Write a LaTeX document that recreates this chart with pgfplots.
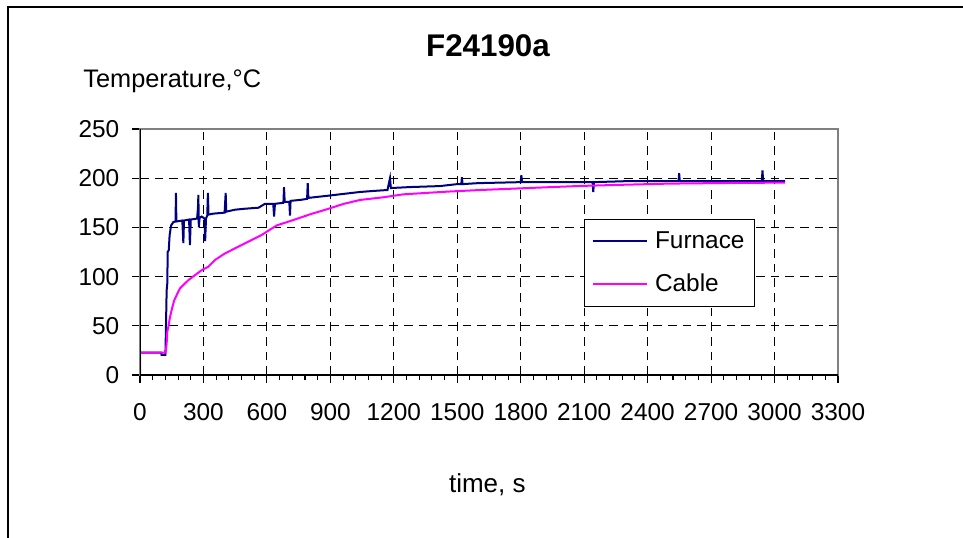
\documentclass[border=0pt]{standalone}
\usepackage{fontspec}
\setmainfont{Liberation Sans}
\usepackage{pgfplots}
\pgfplotsset{compat=1.18}
\definecolor{furnace}{RGB}{0,0,128}
\definecolor{cable}{RGB}{255,0,255}
\begin{document}
\begin{tikzpicture}
% picture frame (1px = 0.75pt)
\path[use as bounding box] (-105pt,-121.5pt) rectangle (617.25pt,281.25pt);
\draw[line width=1.2pt] (-99pt,-125pt) -- (-99pt,276pt) -- (625pt,276pt);
\node[font=\fontsize{23.5}{27}\selectfont\bfseries] at (261pt,247pt) {F24190a};
\node[anchor=west, font=\fontsize{19}{22}\selectfont] at (-46pt,220.5pt) {Temperature,°C};
\node[font=\fontsize{19.5}{23}\selectfont] at (260.5pt,-82.5pt) {time, s};
\begin{axis}[
    at={(0,0)}, anchor=south west,
    scale only axis,
    width=523.5pt, height=184.5pt,
    xmin=0, xmax=3300, ymin=0, ymax=250,
    xtick={0,300,...,3300},
    ytick={0,50,...,250},
    minor x tick num=4,
    tick align=outside,
    tick pos=left,
    major tick length=6pt,
    minor tick length=4pt,
    every tick/.style={black, line width=0.8pt},
    /pgf/number format/assume math mode=true,
    /pgf/number format/1000 sep={},
    tick label style={font=\fontsize{18.3}{21}\selectfont},
    xticklabel style={yshift=-11.5pt},
    yticklabel style={xshift=-6pt},
    grid=major,
    major grid style={black, line width=0.7pt, dash pattern=on 6.5pt off 4.5pt},
    axis line style={draw=gray, line width=1.4pt},
    legend style={
        at={(0.636,0.634)}, anchor=north west,
        draw=black, line width=0.7pt, fill=white,
        font=\fontsize{18.3}{21}\selectfont,
        inner xsep=5.5pt, inner ysep=7pt,
        row sep=14pt, column sep=3pt,
    },
    legend cell align=left,
    legend image code/.code={\draw[#1, line width=1.5pt] (0pt,0pt) -- (41pt,0pt);},
]
\addplot[furnace, line width=1.5pt] coordinates {
(0,22.7) (100,22.7) (102,20.5) (120,20.5) (121,29) (126,86) (129,93) (131,125)
(136,127) (140,142) (147,152) (158,155.5) (168,156) (170,185) (172,156) (200,157)
(205,134) (208,157) (232,158) (236,132) (240,158) (270,159) (274,170) (276,183)
(278,150) (282,160) (292,161) (305,159) (308,136) (312,159) (318,162) (321,185)
(324,163) (347,164) (400,165) (405,185) (408,166) (449,168) (496,169) (560,170)
(591,174) (630,174) (634,161) (638,174) (678,175) (681,191) (684,176) (706,176)
(709,162) (712,177) (760,178) (790,179) (793,195) (796,180) (880,182) (960,184)
(1040,186) (1100,187) (1170,188) (1182,200) (1186,190) (1277,191) (1418,192)
(1500,194) (1519,194) (1522,201) (1525,194) (1600,195) (1800,196) (1803,203)
(1806,196) (2140,196) (2143,186) (2146,196) (2300,197) (2546,197) (2549,205)
(2552,197) (2940,197) (2943,208) (2946,197) (3050,197)
};
\addplot[cable, line width=1.5pt] coordinates {
(0,0) (1,22.7) (121,22.7) (126,32) (129,44) (134,49) (142,59) (153,69) (162,76)
(173,81) (189,88) (205,91.5) (229,96.5) (260,101.5) (292,106.6) (323,110)
(355,117) (402,123.6) (449,128.7) (512,135.5) (575,142.3) (646,152) (725,157.5)
(804,163.3) (883,168.4) (961,173.8) (1040,177.9) (1150,180.6) (1245,183.6)
(1371,185.3) (1466,186.5) (1608,188) (1811,189.8) (2065,192) (2222,193)
(2500,194.5) (2800,195.2) (3050,195.5)
};
\legend{Furnace, Cable}
\draw[black, line width=1.2pt] (rel axis cs:0,1) -- (rel axis cs:0,0) -- (rel axis cs:1,0);
\end{axis}
\end{tikzpicture}
\end{document}
